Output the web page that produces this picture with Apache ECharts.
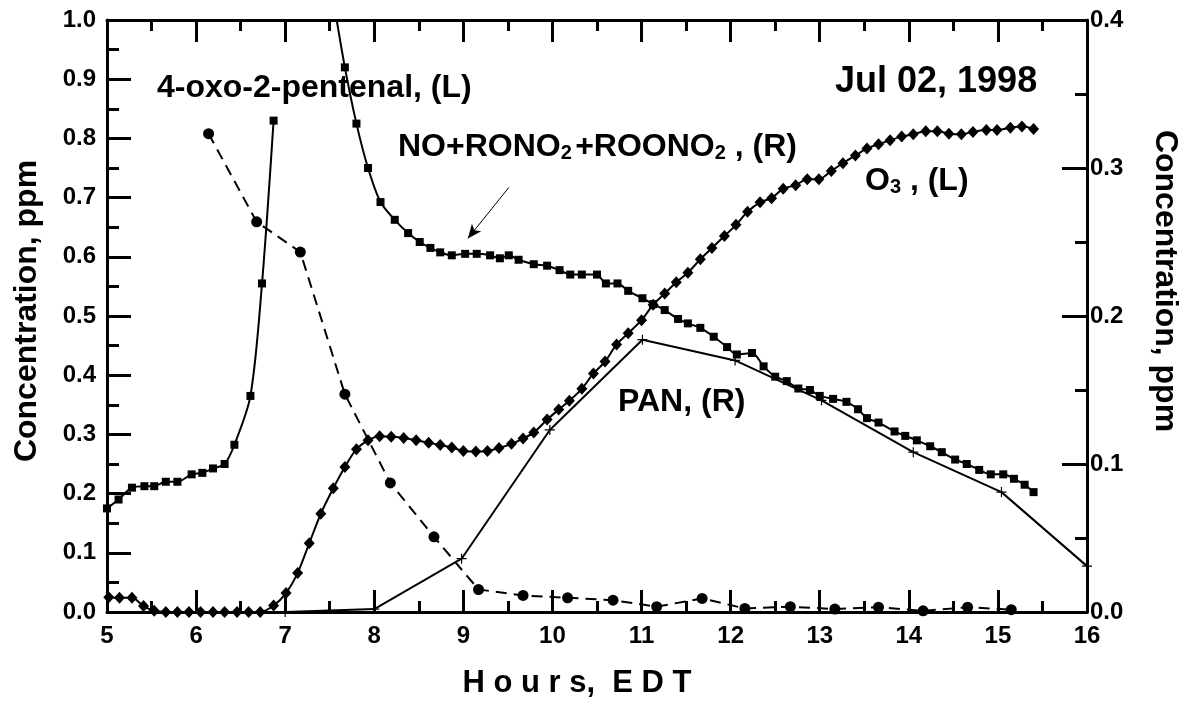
<!DOCTYPE html>
<html>
<head>
<meta charset="utf-8">
<script src="https://cdn.jsdelivr.net/npm/echarts@6.0.0/dist/echarts.min.js"></script>
<style>
  html, body { margin: 0; padding: 0; background: #fff; }
  #chart { width: 1191px; height: 704px; }
</style>
</head>
<body>
<div id="chart"></div>
<script>
// axis ticks
const hourTicks = [5, 6, 7, 8, 9, 10, 11, 12, 13, 14, 15, 16]
const leftTicks = [0, 0.1, 0.2, 0.3, 0.4, 0.5, 0.6, 0.7, 0.8, 0.9, 1.0]
const rightTicks = [0, 0.1, 0.2, 0.3, 0.4]

// NO+RONO2+ROONO2, ppm (right axis) - early morning part
const noyMorning = [
  [5.00, 0.070], [5.13, 0.076], [5.28, 0.084], [5.42, 0.085], [5.53, 0.085],
  [5.66, 0.088], [5.79, 0.088], [5.95, 0.093], [6.07, 0.094], [6.19, 0.097],
  [6.32, 0.100], [6.43, 0.113], [6.61, 0.146], [6.74, 0.222], [6.87, 0.332]
]
// NO+RONO2+ROONO2, ppm (right axis) - after the off-scale peak
const noyDay = [
  [7.54, 0.414], [7.67, 0.368], [7.80, 0.330], [7.93, 0.300], [8.07, 0.277],
  [8.23, 0.265], [8.38, 0.256], [8.51, 0.250], [8.63, 0.246], [8.74, 0.243],
  [8.87, 0.241], [9.02, 0.242], [9.15, 0.242], [9.30, 0.241], [9.41, 0.239],
  [9.51, 0.241], [9.62, 0.238], [9.79, 0.235], [9.94, 0.234], [10.08, 0.231],
  [10.20, 0.228], [10.33, 0.228], [10.50, 0.228], [10.60, 0.222], [10.73, 0.222],
  [10.85, 0.217], [11.01, 0.212], [11.13, 0.208], [11.26, 0.204], [11.41, 0.198],
  [11.52, 0.195], [11.66, 0.192], [11.81, 0.186], [11.96, 0.179], [12.07, 0.174],
  [12.24, 0.175], [12.37, 0.166], [12.50, 0.159], [12.63, 0.156], [12.76, 0.151],
  [12.89, 0.150], [13.00, 0.146], [13.15, 0.144], [13.30, 0.142], [13.43, 0.137],
  [13.53, 0.131], [13.66, 0.128], [13.84, 0.122], [13.96, 0.119], [14.09, 0.116],
  [14.24, 0.112], [14.37, 0.108], [14.52, 0.103], [14.65, 0.100], [14.79, 0.096],
  [14.92, 0.093], [15.06, 0.093], [15.18, 0.090], [15.30, 0.086], [15.40, 0.081]
]
// O3, ppm (left axis)
const ozone = [
  [5.02, 0.025], [5.14, 0.024], [5.28, 0.024], [5.41, 0.010], [5.53, 0.002],
  [5.66, 0.000], [5.79, 0.000], [5.92, 0.000], [6.05, 0.000], [6.19, 0.000],
  [6.32, 0.000], [6.46, 0.000], [6.59, 0.000], [6.72, 0.000], [6.87, 0.011],
  [7.01, 0.032], [7.14, 0.066], [7.27, 0.116], [7.40, 0.166], [7.54, 0.209],
  [7.67, 0.245], [7.80, 0.275], [7.93, 0.290], [8.06, 0.297], [8.19, 0.296],
  [8.33, 0.294], [8.47, 0.290], [8.61, 0.286], [8.74, 0.282], [8.87, 0.278],
  [9.00, 0.272], [9.14, 0.271], [9.27, 0.272], [9.40, 0.277], [9.54, 0.284],
  [9.67, 0.293], [9.79, 0.303], [9.94, 0.325], [10.07, 0.342], [10.19, 0.357],
  [10.33, 0.377], [10.46, 0.403], [10.59, 0.423], [10.72, 0.452], [10.85, 0.471],
  [11.00, 0.493], [11.13, 0.519], [11.26, 0.538], [11.39, 0.557], [11.52, 0.573],
  [11.66, 0.596], [11.79, 0.615], [11.93, 0.635], [12.06, 0.654], [12.19, 0.676],
  [12.33, 0.692], [12.46, 0.699], [12.59, 0.715], [12.73, 0.721], [12.86, 0.731],
  [12.99, 0.731], [13.13, 0.745], [13.26, 0.758], [13.40, 0.771], [13.53, 0.783],
  [13.66, 0.790], [13.79, 0.797], [13.92, 0.803], [14.05, 0.807], [14.19, 0.812],
  [14.32, 0.812], [14.45, 0.808], [14.59, 0.807], [14.72, 0.811], [14.87, 0.814],
  [14.99, 0.814], [15.14, 0.818], [15.27, 0.820], [15.40, 0.816]
]
// 4-oxo-2-pentenal (left axis)
const oxoPentenal = [
  [6.14, 0.808], [6.68, 0.659], [7.17, 0.608], [7.67, 0.368], [8.18, 0.218],
  [8.67, 0.127], [9.17, 0.038], [9.67, 0.028], [10.17, 0.024], [10.68, 0.020],
  [11.17, 0.009], [11.68, 0.023], [12.16, 0.006], [12.67, 0.009], [13.17, 0.005],
  [13.66, 0.008], [14.16, 0.002], [14.66, 0.008], [15.15, 0.004]
]
// PAN, ppm (right axis)
const pan = [
  [7.00, 0.000], [8.00, 0.002], [8.98, 0.036], [9.97, 0.123], [11.01, 0.184],
  [12.05, 0.170], [13.02, 0.143], [14.05, 0.108], [15.04, 0.081], [16.00, 0.031]
]
// arrow pointing at the NO+RONO2+ROONO2 curve, [hour, left-axis value]
const arrowFrom = [9.51, 0.717]
const arrowTo = [9.05, 0.631]

const FONT = 'Liberation Sans'
const plusSymbol = 'path://M4.4,0h1.2v4.4h4.4v1.2h-4.4v4.4h-1.2v-4.4h-4.4v-1.2h4.4z'

const axisLine = { show: true, onZero: false, lineStyle: { color: '#000', width: 3 } }
const tickLabel = { color: '#000', fontFamily: FONT, fontWeight: 'bold', fontSize: 24 }
const nameStyle = { color: '#000', fontFamily: FONT, fontWeight: 'bold', fontSize: 32 }

const lineSeries = (name, data, extra) => Object.assign({
  name: name,
  type: 'line',
  data: data,
  lineStyle: { color: '#000', width: 2 },
  itemStyle: { color: '#000' },
  clip: true,
  z: 3
}, extra)

const chart = echarts.init(document.getElementById('chart'), null, { renderer: 'canvas' })

const subText = (size) => ({
  a: { fontFamily: FONT, fontWeight: 'bold', fontSize: size, fill: '#000', lineHeight: 36, verticalAlign: 'bottom' },
  s: { fontFamily: FONT, fontWeight: 'bold', fontSize: 20, fill: '#000', lineHeight: 36, verticalAlign: 'bottom' }
})

const option = {
  animation: false,
  backgroundColor: '#fff',
  textStyle: { fontFamily: FONT },
  grid: { left: 107, right: 104, top: 20, bottom: 87, containLabel: false },
  xAxis: [
    {
      type: 'value',
      position: 'bottom',
      min: hourTicks[0],
      max: hourTicks[hourTicks.length - 1],
      interval: 1,
      axisLine: axisLine,
      axisTick: { inside: true, length: 22, lineStyle: { color: '#000', width: 3 } },
      minorTick: { show: true, splitNumber: 2, length: 11, lineStyle: { color: '#000', width: 3 } },
      axisLabel: Object.assign({}, tickLabel, { margin: 12 }),
      splitLine: { show: false },
      name: 'H o u r s,  E D T',
      nameLocation: 'middle',
      nameGap: 56,
      nameTextStyle: Object.assign({}, nameStyle, { fontSize: 31, padding: [0, 40, 0, 0] })
    },
    {
      type: 'value',
      position: 'top',
      min: hourTicks[0],
      max: hourTicks[hourTicks.length - 1],
      interval: 1,
      axisLine: axisLine,
      axisTick: { inside: true, length: 22, lineStyle: { color: '#000', width: 3 } },
      minorTick: { show: true, splitNumber: 2, length: 11, lineStyle: { color: '#000', width: 3 } },
      axisLabel: { show: false },
      splitLine: { show: false }
    }
  ],
  yAxis: [
    {
      type: 'value',
      position: 'left',
      min: leftTicks[0],
      max: leftTicks[leftTicks.length - 1],
      interval: 0.1,
      axisLine: axisLine,
      axisTick: { inside: true, length: 24, lineStyle: { color: '#000', width: 3 } },
      minorTick: { show: true, splitNumber: 2, length: 12, lineStyle: { color: '#000', width: 3 } },
      axisLabel: Object.assign({}, tickLabel, { margin: 11, formatter: v => v.toFixed(1) }),
      splitLine: { show: false },
      name: 'Concentration, ppm',
      nameLocation: 'middle',
      nameGap: 64,
      nameTextStyle: Object.assign({}, nameStyle, { padding: [0, 0, 0, 10] })
    },
    {
      type: 'value',
      position: 'right',
      min: rightTicks[0],
      max: rightTicks[rightTicks.length - 1],
      interval: 0.1,
      axisLine: axisLine,
      axisTick: { inside: true, length: 25, lineStyle: { color: '#000', width: 3 } },
      minorTick: { show: true, splitNumber: 2, length: 12, lineStyle: { color: '#000', width: 3 } },
      axisLabel: Object.assign({}, tickLabel, { margin: 3, formatter: v => v.toFixed(1) }),
      splitLine: { show: false },
      name: 'Concentration, ppm',
      nameLocation: 'middle',
      nameRotate: -90,
      nameGap: 62,
      nameTextStyle: Object.assign({}, nameStyle, { padding: [0, 70, 0, 0] })
    }
  ],
  series: [
    lineSeries('NOy morning', noyMorning, {
      yAxisIndex: 1, symbol: 'rect', symbolSize: 8, smooth: 0.3
    }),
    lineSeries('NOy', noyDay, {
      yAxisIndex: 1, symbol: 'rect', symbolSize: 8, smooth: 0.3
    }),
    lineSeries('O3', ozone, {
      yAxisIndex: 0, symbol: 'diamond', symbolSize: [11, 12], smooth: 0.3,
      markLine: {
        silent: true,
        symbol: ['none', 'arrow'],
        symbolSize: [9, 14],
        label: { show: false },
        lineStyle: { color: '#000', width: 1, type: 'solid' },
        data: [[{ coord: arrowFrom }, { coord: arrowTo }]]
      }
    }),
    lineSeries('4-oxo-2-pentenal', oxoPentenal, {
      yAxisIndex: 0, symbol: 'circle', symbolSize: 11,
      lineStyle: { color: '#000', width: 2, type: [11, 7] }
    }),
    lineSeries('PAN', pan, {
      yAxisIndex: 1, symbol: plusSymbol, symbolSize: 10
    })
  ],
  graphic: [
    { type: 'text', left: 157, top: 72,
      style: { text: '4-oxo-2-pentenal, (L)', font: 'bold 32px "' + FONT + '"', fill: '#000' } },
    { type: 'text', left: 835, top: 64,
      style: { text: 'Jul 02, 1998', font: 'bold 36px "' + FONT + '"', fill: '#000' } },
    { type: 'text', left: 398, top: 131,
      style: { text: '{a|NO+RONO}{s|2} {a|+ROONO}{s|2}{a| , (R)}', rich: subText(32) } },
    { type: 'text', left: 865, top: 165,
      style: { text: '{a|O}{s|3}{a| , (L)}', rich: subText(32) } },
    { type: 'text', left: 618, top: 386,
      style: { text: 'PAN, (R)', font: 'bold 32px "' + FONT + '"', fill: '#000' } }
  ]
}

chart.setOption(option)
</script>
</body>
</html>
